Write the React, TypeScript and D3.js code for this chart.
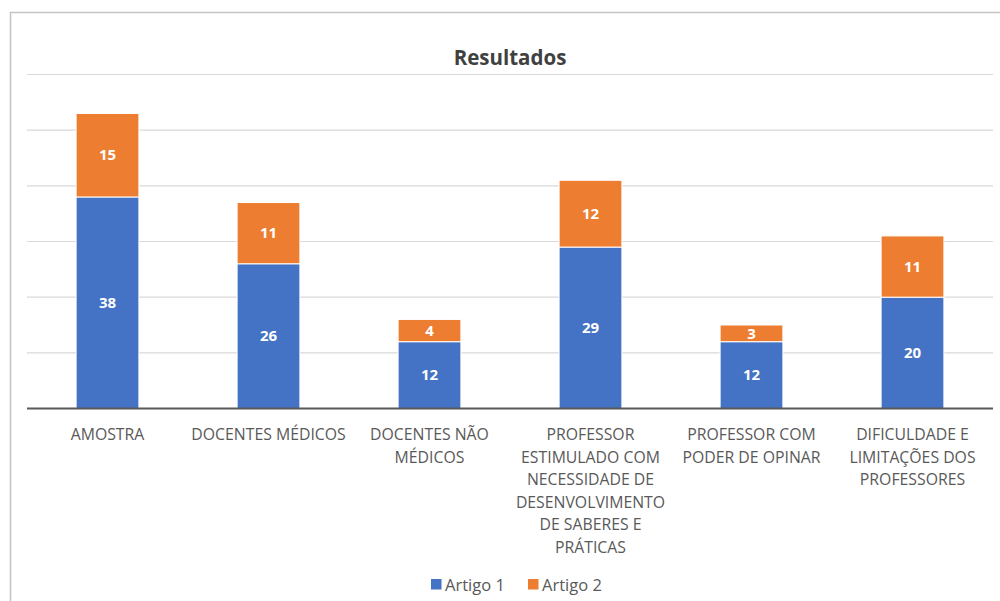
import React from "react";
import * as d3 from "d3";

// Category labels (line breaks mark where the axis labels wrap)
const categories: string[] = [
  "AMOSTRA",
  "DOCENTES MÉDICOS",
  "DOCENTES NÃO\nMÉDICOS",
  "PROFESSOR\nESTIMULADO COM\nNECESSIDADE DE\nDESENVOLVIMENTO\nDE SABERES E\nPRÁTICAS",
  "PROFESSOR COM\nPODER DE OPINAR",
  "DIFICULDADE E\nLIMITAÇÕES DOS\nPROFESSORES",
];

const artigo1: number[] = [38, 26, 12, 29, 12, 20];
const artigo2: number[] = [15, 11, 4, 12, 3, 11];

const seriesNames: string[] = ["Artigo 1", "Artigo 2"];
const seriesColors: string[] = ["#4472C4", "#ED7D31"];
const gridTicks: number[] = [0, 10, 20, 30, 40, 50, 60];

const W = 1000;
const H = 601;
const plot = { left: 27, right: 993, top: 74.5, bottom: 408.5 };
const FONT = "'Open Sans', 'Liberation Sans', sans-serif";

export default function App() {
  const x = d3
    .scaleBand<string>()
    .domain(categories)
    .range([plot.left, plot.right])
    .paddingInner(0.61)
    .paddingOuter(0.305);

  const y = d3.scaleLinear().domain([0, 60]).range([plot.bottom, plot.top]);

  const rows = categories.map((c, i) => ({ cat: c, a1: artigo1[i], a2: artigo2[i] }));
  const stack = d3.stack<any>().keys(["a1", "a2"])(rows);

  const legendX = [431, 528];

  return (
    <svg
      width={W}
      height={H}
      style={{ position: "absolute", left: 0, top: 0, background: "#fff" }}
      fontFamily={FONT}
    >
      <rect x={0} y={0} width={W} height={H} fill="#fff" />
      {/* chart frame */}
      <path d={`M10.5,${H} V12.5 H${W}`} fill="none" stroke="#c4c4c4" strokeWidth={1.5} />

      <text
        x={(plot.left + plot.right) / 2}
        y={65}
        textAnchor="middle"
        fontSize={20.5}
        fontWeight={700}
        fill="#404040"
      >
        Resultados
      </text>

      {/* gridlines */}
      {gridTicks.slice(1).map((t) => (
        <line
          key={t}
          x1={plot.left}
          x2={plot.right}
          y1={y(t)}
          y2={y(t)}
          stroke="#d9d9d9"
          strokeWidth={1.2}
        />
      ))}

      {/* stacked bars */}
      {stack.map((layer, si) =>
        layer.map((d, i) => {
          const cat = categories[i];
          const y0 = y(d[0]);
          const y1 = y(d[1]);
          const val = d[1] - d[0];
          return (
            <g key={`${si}-${i}`}>
              <rect
                x={x(cat)}
                y={y1}
                width={x.bandwidth()}
                height={y0 - y1}
                fill={seriesColors[si]}
                stroke="#fff"
                strokeWidth={1}
              />
              <text
                x={(x(cat) as number) + x.bandwidth() / 2}
                y={(y0 + y1) / 2}
                dy="0.35em"
                textAnchor="middle"
                fontSize={15}
                fontWeight={700}
                fill="#fff"
              >
                {val}
              </text>
            </g>
          );
        })
      )}

      {/* baseline */}
      <line
        x1={plot.left}
        x2={plot.right}
        y1={y(0)}
        y2={y(0)}
        stroke="#595959"
        strokeWidth={2}
      />

      {/* category labels */}
      {categories.map((c) => (
        <text
          key={c}
          x={(x(c) as number) + x.bandwidth() / 2}
          y={440}
          textAnchor="middle"
          fontSize={15.8}
          fill="#595959"
        >
          {c.split("\n").map((line, li) => (
            <tspan key={li} x={(x(c) as number) + x.bandwidth() / 2} dy={li === 0 ? 0 : 22.5}>
              {line}
            </tspan>
          ))}
        </text>
      ))}

      {/* legend */}
      {seriesNames.map((n, i) => (
        <g key={n}>
          <rect x={legendX[i]} y={579} width={10.5} height={10.5} fill={seriesColors[i]} />
          <text x={legendX[i] + 14} y={590.5} fontSize={16.5} fill="#595959">
            {n}
          </text>
        </g>
      ))}
    </svg>
  );
}
